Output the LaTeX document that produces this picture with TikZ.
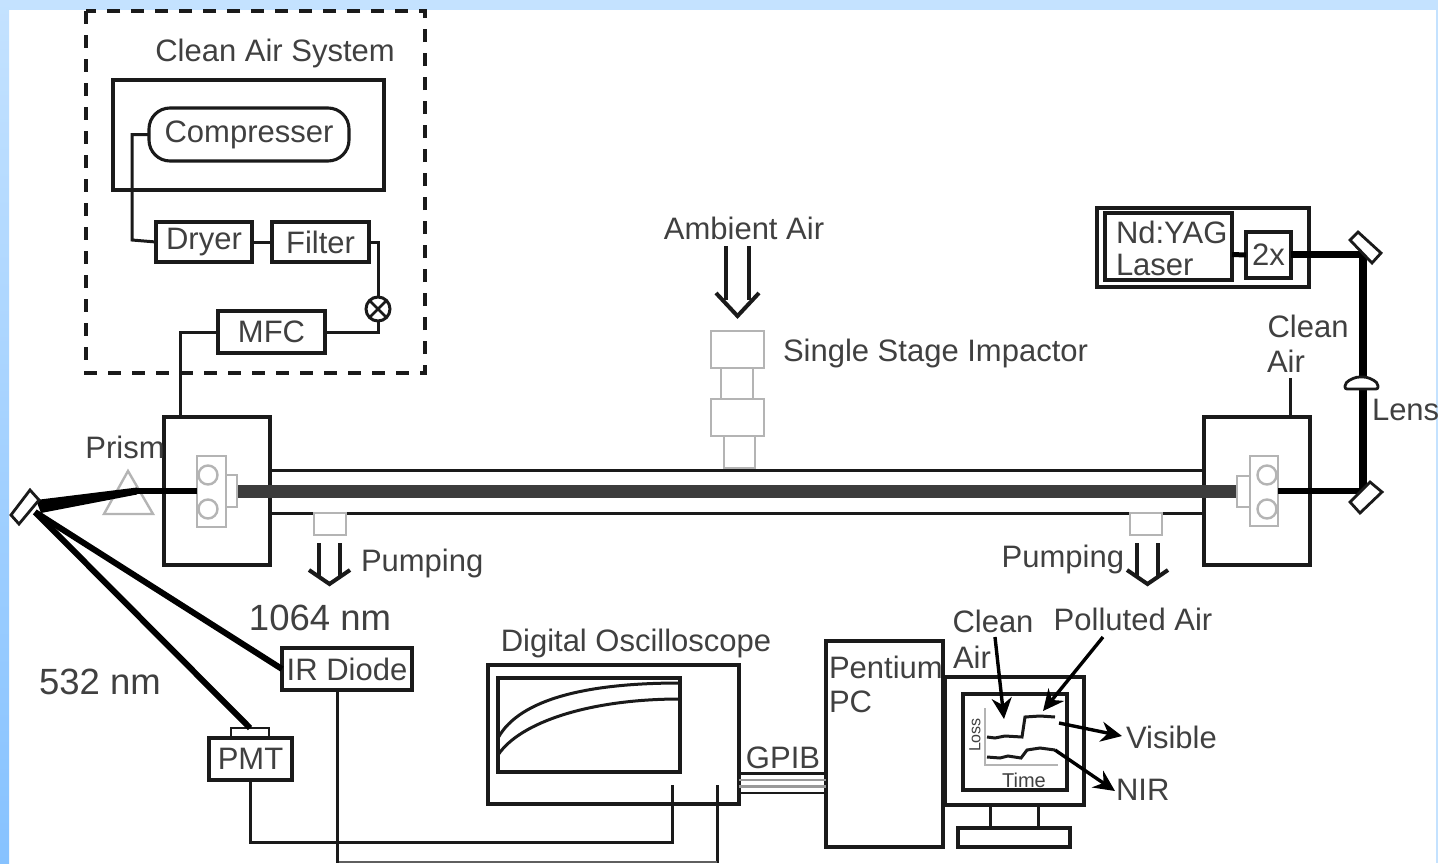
\documentclass[tikz,border=0pt]{standalone}
\usepackage{fontspec}
\setmainfont{Liberation Sans}
\usetikzlibrary{arrows.meta,calc}
\definecolor{ink}{HTML}{1A1A1A}
\definecolor{txt}{HTML}{404040}
\definecolor{gry}{HTML}{B4B4B4}
\definecolor{beamc}{HTML}{3C3C3C}
\definecolor{bgA}{HTML}{C4E2FF}
\definecolor{bgB}{HTML}{86C2FF}
\newcommand{\bx}[7][]{%
  \pgfmathsetmacro{\cxx}{(#3+#5)/2}\pgfmathsetmacro{\cyy}{(#4+#6)/2}%
  \pgfmathsetmacro{\wdd}{#5-#3}\pgfmathsetmacro{\htt}{#6-#4}%
  \node[boxn,#1,minimum width=\wdd pt,minimum height=\htt pt] (#2) at (\cxx,\cyy) {#7};}
\newcommand{\hollow}[5]{% x1 x2 ytop ybend ytip
  \pgfmathsetmacro{\mxx}{(#1+#2)/2}%
  \draw[wire,line width=4pt] (#1,#3) -- (#1,#4+7) (#2,#3) -- (#2,#4+7);
  \draw[wire,line width=4pt,line join=miter] (#1-10,#4) -- (\mxx,#5) -- (#2+10,#4);}
\tikzset{
  x=1pt,y=-1pt,
  wire/.style={draw=ink,line width=3pt,line join=miter},
  boxn/.style={draw=ink,line width=3.1pt,inner sep=0pt,outer sep=0pt,fill=none,text=txt,font=\fontsize{31}{35}\selectfont,align=center},
  graybox/.style={boxn,draw=gry,line width=2.4pt,fill=white},
  graycirc/.style={draw=gry,line width=2.4pt,circle,minimum size=19pt,inner sep=0pt},
  lab/.style={text=txt,inner sep=0pt,outer sep=0pt,font=\fontsize{31}{35}\selectfont},
  bignum/.style={lab,font=\fontsize{36.5}{40}\selectfont},
  beam/.style={draw=black,line width=6.5pt},
  mirrorp/.style={draw=ink,line width=2.8pt,fill=white,line join=miter},
  pointer/.style={draw=black,line width=3.4pt,-{Stealth[length=21pt,width=20pt]}},
}
\begin{document}
\begin{tikzpicture}
\useasboundingbox (0,0) rectangle (1438,863);
\fill[white] (0,0) rectangle (1438,863);
\fill[bgA] (0,0) rectangle (1438,10);
\shade[top color=bgA,bottom color=bgB] (0,0) rectangle (9,863);
\fill[bgA] (1436,0) rectangle (1438,863);

% Clean air system
\draw[draw=ink,line width=3.4pt,dash pattern=on 13pt off 11pt] (86,11) rectangle (425,373);
\node[lab] (cas) at (275,53) {Clean Air System};
\bx{outer}{113}{80}{384}{190}{}
\bx[rounded corners=21pt]{comp}{149}{108}{349}{161}{\raisebox{-2pt}{Compresser}}
\bx{dryer}{156}{222}{252}{262}{Dryer}
\bx{filter}{272}{222}{369}{262}{Filter}
\bx{mfc}{218}{311}{325}{353}{\raisebox{-1pt}{MFC}}
\node[draw=ink,line width=3pt,circle,minimum size=24pt,inner sep=0pt,outer sep=0pt] (valve) at (378,309) {};
\draw[ink,line width=2.8pt] (valve.45) -- (valve.225) (valve.135) -- (valve.315);
\draw[wire] (comp.west) -- (132,134.5) -- (132,240) -- (dryer.west);
\draw[wire] (dryer.east) -- (filter.west);
\draw[wire] (filter.east) -| (valve.north);
\draw[wire] (valve.south) |- (mfc.east);

% Cells and tube
\bx{lcell}{164}{417}{270}{565}{}
\bx{rcell}{1204}{417}{1310}{565}{}
\draw[wire] (mfc.west) -| (180,417);
\coordinate (tl1) at (270,470); \coordinate (tr1) at (1204,470);
\coordinate (tl2) at (270,513); \coordinate (tr2) at (1204,513);
\draw[wire] (tl1) -- (tr1) (tl2) -- (tr2);

% Impactor
\bx[graybox]{imp3}{724}{436}{755}{468}{}
\bx[graybox]{imp1c}{721}{368}{753}{399}{}
\bx[graybox]{imp1}{711}{331}{764}{368}{}
\bx[graybox]{imp2}{711}{399}{764}{436}{}
\node[lab,anchor=west] (ssi) at (783,353) {Single Stage Impactor};
\node[lab] (amb) at (744,228) {Ambient Air};
\hollow{726}{749}{246}{293}{316}

% Pumping
\bx[graybox]{pl}{314}{513}{346}{535}{}
\bx[graybox]{pr}{1130}{513}{1162}{535}{}
\hollow{319}{340}{543}{570}{584}
\hollow{1137}{1158}{543}{570}{584}
\node[lab,anchor=west] (pumpl) at (361,563) {Pumping};
\node[lab,anchor=east] (pumpr) at (1124,559) {Pumping};

% Holders and main beam
\fill[beamc] (237,485) rectangle (1237,498);
\coordinate (p1) at (128,471); \coordinate (p2) at (104,514); \coordinate (p3) at (153,514);
\draw[gry,line width=2.4pt,line join=miter] (p1) -- (p2) -- (p3) -- cycle;
\bx[graybox]{lhs}{225}{475}{237}{507}{}
\bx[graybox]{lh}{197}{456}{226}{527}{}
\node[graycirc] (lc1) at (208,475) {};
\node[graycirc] (lc2) at (208,509) {};
\bx[graybox]{rhs}{1237}{476}{1250}{507}{}
\bx[graybox]{rh}{1250}{456}{1278}{526}{}
\node[graycirc] (rc1) at (1267,475) {};
\node[graycirc] (rc2) at (1267,509) {};
\node[lab] (prism) at (125,447) {Prism};

% Laser and optics
\bx{laserout}{1097}{208}{1309}{287}{}
\bx{laser}{1105}{213}{1232}{280}{}
\node[lab,anchor=west] (nd) at (1116,232) {Nd:YAG};
\node[lab,anchor=west] (las) at (1116,265) {Laser};
\bx{twox}{1246}{232}{1291}{278}{2x}
\coordinate (beamT) at (1363,254.5);
\coordinate (beamB) at (1363,491);
\draw[beam,line width=5pt] (1232,254.5) -- (twox.west);
\draw[beam] (twox.east|-beamT) -- (beamT);
\draw[beam,line width=7.5pt] (1363,251) -- (1363,494);
\draw[beam] (rh.east|-beamB) -- (beamB);
\coordinate (lb) at (197,491);
\draw[beam] (lb) -- (135,491);
\fill[black] (137,487.5) -- (36,500) -- (41,513) -- (137,494.5) -- cycle;
\draw[mirrorp] (1358,232) -- (1381,253) -- (1372,263) -- (1350,240) -- cycle;
\draw[mirrorp] (1370,482) -- (1382,492) -- (1360,513) -- (1350,502) -- cycle;
\draw[ink,line width=2.8pt,fill=white,rounded corners=2pt] (1345,389) -- (1345,384) .. controls (1350,379) and (1356,377) .. (1361.5,377) .. controls (1367,377) and (1373,379) .. (1378,384) -- (1378,389) -- cycle;
\node[lab] (clean1) at (1308,326) {Clean};
\node[lab] (air1) at (1286,361) {Air};
\coordinate (ca) at (1290,378);
\draw[wire] (ca) -- (rcell.north-|ca);
\node[lab,anchor=west] (lens) at (1372,410) {Lens};

% Detection
\node[bignum] (nm1) at (320,618) {1064 nm};
\node[bignum] (nm2) at (100,682) {532 nm};
\bx{ir}{282}{648}{412}{690}{IR Diode}
\bx{pmt}{209}{738}{292}{780}{\raisebox{-1pt}{PMT}}
\bx[line width=2.8pt]{pmtc}{231}{728}{269}{738}{}
\coordinate (mm) at (35,512);
\draw[beam,line width=6pt] (mm) -- (ir.west);
\draw[beam,line width=6pt] (mm) -- (250,728);
\draw[mirrorp] (30,490) -- (39,500) -- (19,524) -- (11,515) -- cycle;

% Oscilloscope
\node[lab] (dos) at (636,643) {Digital Oscilloscope};
\bx{osc}{488}{665}{739}{804}{}
\bx{scr}{498}{678}{680}{772}{}
\draw[ink,line width=3pt] (498,738) .. controls (520,698) and (590,683) .. (680,683);
\draw[ink,line width=3pt] (498,755) .. controls (520,722) and (590,699) .. (680,699);
\coordinate (in1) at (672,785); \coordinate (in2) at (717,785);
\draw[wire] (in1) -- (672,842) -| (pmt.south);
\draw[wire] (in2) -- (717,863);
\draw[draw=ink!70,line width=2pt] (717,862) -- (337,862);
\draw[wire] (ir.south-|337,690) -- (337,863);

% GPIB
\bx{pc}{826}{641}{943}{847}{}
\node[lab,anchor=west] (pent) at (829,667) {Pentium};
\node[lab,anchor=west] (pcl) at (829,702) {PC};
\node[lab] (gpib) at (783,758) {GPIB};
\draw[wire,line width=2.6pt] (739,773.5) -- (826,773.5) (739,793) -- (826,793);
\draw[draw=gry!85!black,line width=2.4pt] (739,780) -- (826,780) (739,786.5) -- (826,786.5);

% Monitor
\bx{mon}{945}{677}{1084}{805}{}
\bx{mons}{963}{694}{1067}{790}{}
\bx{base}{958}{828}{1070}{847}{}
\draw[wire] (990,805) -- (990,828) (1038,805) -- (1038,828);
\draw[gry,line width=2.2pt] (985,708) -- (985,765) -- (1058,765);
\node[lab,rotate=90,font=\fontsize{16}{18}\selectfont] (loss) at (975,735) {Loss};
\node[lab,font=\fontsize{20}{22}\selectfont] (time) at (1024,780) {Time};
\coordinate (cu) at (1055,717); \coordinate (cl) at (1055,750);
\draw[ink,line width=3pt] (987,737) -- (995,738) -- (1005,736) -- (1022,737) -- (1025,717) -- (1040,716) -- (cu);
\draw[ink,line width=3pt] (987,757) -- (1000,758) -- (1008,756) -- (1021,758) -- (1027,750) -- (1040,748) -- (cl);
\draw[pointer] (995,637) -- (1004,719);
\draw[pointer] (1103,637) -- (1043,711);
\draw[pointer] (1059,723) -- (1122,736);
\draw[pointer] (cl) -- (1115,791);
\node[lab] (clean2) at (993,621) {Clean};
\node[lab] (air2) at (972,657) {Air};
\node[lab] (pol) at (1133,619) {Polluted Air};
\node[lab,anchor=west] (vis) at (1126,737) {Visible};
\node[lab,anchor=west] (nir) at (1116,790) {NIR};
\end{tikzpicture}
\end{document}
